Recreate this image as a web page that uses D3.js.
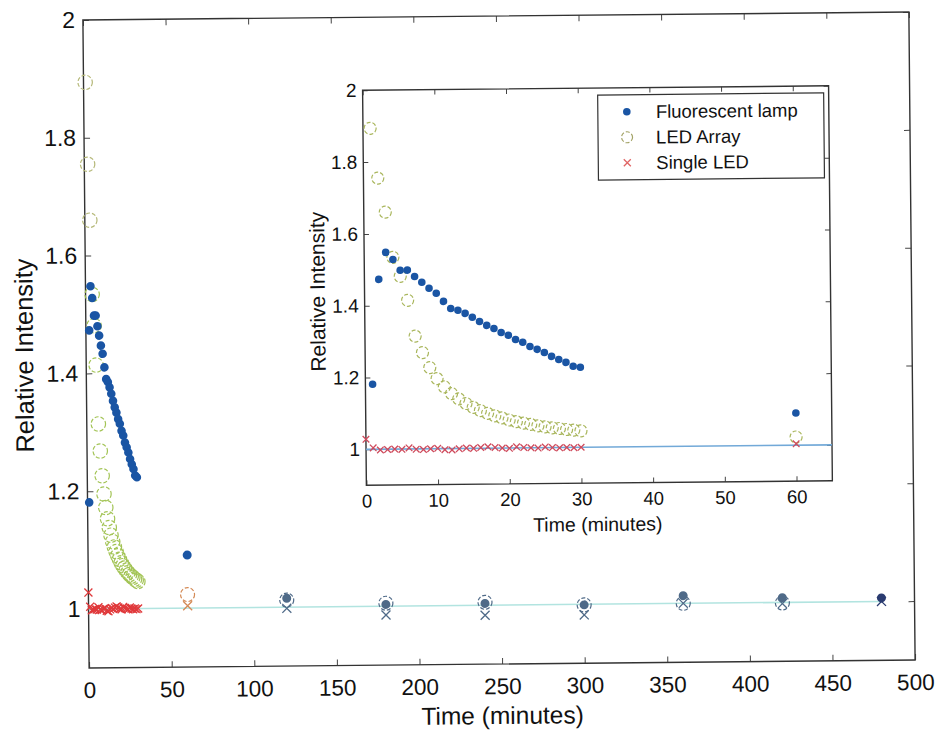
<!DOCTYPE html>
<html>
<head>
<meta charset="utf-8">
<script src="https://cdn.jsdelivr.net/npm/d3@7"></script>
<style>
  body { margin: 0; background: #fff; }
  svg text { font-family: "Liberation Sans", Arial, sans-serif; fill: #111; }
</style>
</head>
<body>
<div id="chart"></div>
<script>
// data (relative intensity vs time in minutes)
var timeEarly = [1,2,3,4,5,6,7,8,9,10,11,12,13,14,15,16,17,18,19,20,21,22,23,24,25,26,27,28,29,30];
var lampEarly = [1.181,1.473,1.548,1.528,1.498,1.498,1.480,1.464,1.447,1.433,1.410,1.390,1.385,1.376,1.365,
                 1.353,1.342,1.333,1.322,1.314,1.302,1.294,1.282,1.274,1.265,1.254,1.245,1.237,1.226,1.223];
var ledArrayEarly = [1.894,1.755,1.660,1.534,1.481,1.414,1.314,1.268,1.226,1.195,1.172,1.153,1.138,1.125,1.114,
                     1.105,1.097,1.090,1.084,1.078,1.073,1.069,1.065,1.061,1.058,1.055,1.053,1.050,1.048,1.046];
var singleTime = [0,1,2,3,4,5,6,7,8,9,10,11,12,13,14,15,16,17,18,19,20,21,22,23,24,25,26,27,28,29,30];
var singleEarly = [1.028,1.004,0.998,0.999,1.000,0.999,1.003,0.999,0.998,1.000,1.001,0.997,0.996,0.999,1.001,1.000,
                   1.002,1.004,1.002,1.000,0.999,1.003,1.001,1.000,0.999,1.002,1.000,0.999,1.000,0.999,1.000];

var timeLate = [60,120,180,240,300,360,420,480];
var lampLate = [1.090,1.015,1.003,1.003,0.999,1.013,1.008,1.006];
var singleLate = [1.004,0.998,0.985,0.983,0.982,1.000,0.998,1.000];
// no LED Array ring is visible at 480 min
var timeLateLed = [60,120,180,240,300,360,420];
var ledArrayLate = [1.023,1.012,1.005,1.005,0.999,1.000,0.999];

var refLineMain = [0, 480];
var refLineInset = [0, 65];

var xTicksMain = [0,50,100,150,200,250,300,350,400,450,500];
var xTicksInset = [0,10,20,30,40,50,60];
var yTicks = [1,1.2,1.4,1.6,1.8,2];

var seriesNames = ["Fluorescent lamp", "LED Array", "Single LED"];

// colours
var blue = "#1a55a4", olive = "#a9b65c", red = "#e0393b";
var slate = "#4f6a88", orange = "#d48a56", navy = "#2a3b70";

var width = 943, height = 732;

var svg = d3.select("#chart").append("svg")
    .attr("width", width)
    .attr("height", height);

// the scanned figure is tilted a little
var root = svg.append("g")
    .attr("transform", "rotate(-0.55, 499, 340)");

function zip(ts, vs) {
  return ts.map(function(t, i) { return {t: t, v: vs[i]}; });
}

function drawAxes(g, x, y, xt, opt) {
  g.append("rect")
    .attr("x", x.range()[0]).attr("y", y.range()[1])
    .attr("width", x.range()[1] - x.range()[0])
    .attr("height", y.range()[0] - y.range()[1])
    .attr("fill", "#fff");

  var bottom = g.append("g")
    .attr("transform", "translate(0," + y.range()[0] + ")")
    .call(d3.axisBottom(x).tickValues(xt).tickSizeInner(-opt.tick).tickSizeOuter(0)
      .tickPadding(opt.xPad).tickFormat(d3.format("d")));
  var left = g.append("g")
    .attr("transform", "translate(" + x.range()[0] + ",0)")
    .call(d3.axisLeft(y).tickValues(yTicks).tickSizeInner(-opt.tick).tickSizeOuter(0)
      .tickPadding(opt.yPad).tickFormat(function(d) { return String(d); }));
  var top = g.append("g")
    .attr("transform", "translate(0," + y.range()[1] + ")")
    .call(d3.axisTop(x).tickValues(xt).tickSizeInner(-opt.tick).tickSizeOuter(0).tickFormat(""));
  var right = g.append("g")
    .attr("transform", "translate(" + x.range()[1] + ",0)")
    .call(d3.axisRight(y).tickValues(yTicks).tickSizeInner(-opt.tick).tickSizeOuter(0).tickFormat(""));

  [bottom, left, top, right].forEach(function(a) {
    a.select(".domain").remove();
    a.selectAll("line").attr("stroke", "#444").attr("stroke-width", 1);
  });
  bottom.selectAll("text").attr("font-size", opt.xFont).attr("font-family", null);
  left.selectAll("text").attr("font-size", opt.yFont).attr("font-family", null);

  g.append("rect")
    .attr("x", x.range()[0]).attr("y", y.range()[1])
    .attr("width", x.range()[1] - x.range()[0])
    .attr("height", y.range()[0] - y.range()[1])
    .attr("fill", "none")
    .attr("stroke", "#333")
    .attr("stroke-width", 1.4);
}

function refLine(g, x, y, span, color) {
  g.append("line")
    .attr("x1", x(span[0])).attr("x2", x(span[1]))
    .attr("y1", y(1)).attr("y2", y(1))
    .attr("stroke", color)
    .attr("stroke-width", 1.6);
}

function colorFn(c) {
  return typeof c === "function" ? c : function() { return c; };
}

function dots(g, data, x, y, r, color) {
  g.selectAll(null).data(data).enter().append("circle")
    .attr("cx", function(d) { return x(d.t); })
    .attr("cy", function(d) { return y(d.v); })
    .attr("r", r)
    .attr("fill", colorFn(color));
}

function rings(g, data, x, y, r, color) {
  g.selectAll(null).data(data).enter().append("circle")
    .attr("cx", function(d) { return x(d.t); })
    .attr("cy", function(d) { return y(d.v); })
    .attr("r", r)
    .attr("fill", "none")
    .attr("stroke", colorFn(color))
    .attr("stroke-width", 1.2)
    .attr("stroke-dasharray", "4 2");
}

function crosses(g, data, x, y, s, color) {
  g.selectAll(null).data(data).enter().append("path")
    .attr("d", function(d) {
      var cx = x(d.t), cy = y(d.v);
      return "M" + (cx - s) + "," + (cy - s) + "L" + (cx + s) + "," + (cy + s) +
             "M" + (cx - s) + "," + (cy + s) + "L" + (cx + s) + "," + (cy - s);
    })
    .attr("fill", "none")
    .attr("stroke", colorFn(color))
    .attr("stroke-width", 1.3);
}

// ---------- main plot ----------
var xm = d3.scaleLinear().domain([0, 500]).range([86, 912]);
var ym = d3.scaleLinear().domain([0.9, 2]).range([664, 16]);

var main = root.append("g");
drawAxes(main, xm, ym, xTicksMain, {tick: 6, xPad: 14, yPad: 8, xFont: 22.5, yFont: 23});

refLine(main, xm, ym, refLineMain, "#b2e4e0");

// the scan shows the 60 min ring/cross orange and the later points grey-blue
var lateColor = function(d) { return d.t < 100 ? orange : (d.t > 450 ? navy : slate); };
rings(main, zip(timeEarly, ledArrayEarly), xm, ym, 7.2, function(d) { return d.t < 4 ? "#b5b878" : "#a3c456"; });
rings(main, zip(timeLateLed, ledArrayLate), xm, ym, 7, lateColor);
dots(main, zip(timeEarly, lampEarly), xm, ym, 4.3, blue);
dots(main, zip(timeLate, lampLate), xm, ym, 4.5, function(d) { return d.t < 100 ? blue : lateColor(d); });
crosses(main, zip(singleTime, singleEarly), xm, ym, 4, red);
crosses(main, zip(timeLate, singleLate), xm, ym, 4.5, lateColor);

main.append("text")
  .attr("transform", "translate(24,351) rotate(-90)")
  .attr("text-anchor", "middle")
  .attr("dy", "0.35em")
  .attr("font-size", 25.5)
  .text("Relative Intensity");

main.append("text")
  .attr("x", 499).attr("y", 724)
  .attr("text-anchor", "middle")
  .attr("font-size", 24.5)
  .text("Time (minutes)");

// ---------- inset ----------
var xi = d3.scaleLinear().domain([0, 65]).range([365, 831]);
var yi = d3.scaleLinear().domain([0.9, 2]).range([484, 89]);

var inset = root.append("g");
drawAxes(inset, xi, yi, xTicksInset, {tick: 5, xPad: 9, yPad: 6, xFont: 18.5, yFont: 19});

refLine(inset, xi, yi, refLineInset, "#72a9d8");

rings(inset, zip(timeEarly, ledArrayEarly).concat(zip([60], [ledArrayLate[0]])), xi, yi, 6, olive);
dots(inset, zip(timeEarly, lampEarly).concat(zip([60], [lampLate[0]])), xi, yi, 3.8, blue);
crosses(inset, zip(singleTime, singleEarly).concat(zip([60], [singleLate[0]])), xi, yi, 3.3, "#cf4a5c");

inset.append("text")
  .attr("transform", "translate(318,290) rotate(-90)")
  .attr("text-anchor", "middle")
  .attr("dy", "0.35em")
  .attr("font-size", 21)
  .text("Relative Intensity");

inset.append("text")
  .attr("x", 596).attr("y", 532)
  .attr("text-anchor", "middle")
  .attr("font-size", 19.5)
  .text("Time (minutes)");

// legend
var legend = inset.append("g").attr("transform", "translate(600,96)");
legend.append("rect")
  .attr("width", 226).attr("height", 85)
  .attr("fill", "#fff")
  .attr("stroke", "#333")
  .attr("stroke-width", 1.2);

var rows = legend.selectAll(null).data(seriesNames).enter().append("g")
  .attr("transform", function(d, i) { return "translate(0," + (17 + i * 25.5) + ")"; });

rows.append("text")
  .attr("x", 58).attr("dy", "0.35em")
  .attr("font-size", 18.5)
  .text(function(d) { return d; });

legend.append("circle").attr("cx", 29).attr("cy", 17).attr("r", 3.8).attr("fill", blue);
legend.append("circle").attr("cx", 29).attr("cy", 42.5).attr("r", 5.5)
  .attr("fill", "none").attr("stroke", "#a3a366").attr("stroke-width", 1.2).attr("stroke-dasharray", "4 2");
legend.append("path").attr("d", "M25.5,64.5L32.5,71.5M25.5,71.5L32.5,64.5")
  .attr("stroke", "#e06464").attr("stroke-width", 1.3);
</script>
</body>
</html>
